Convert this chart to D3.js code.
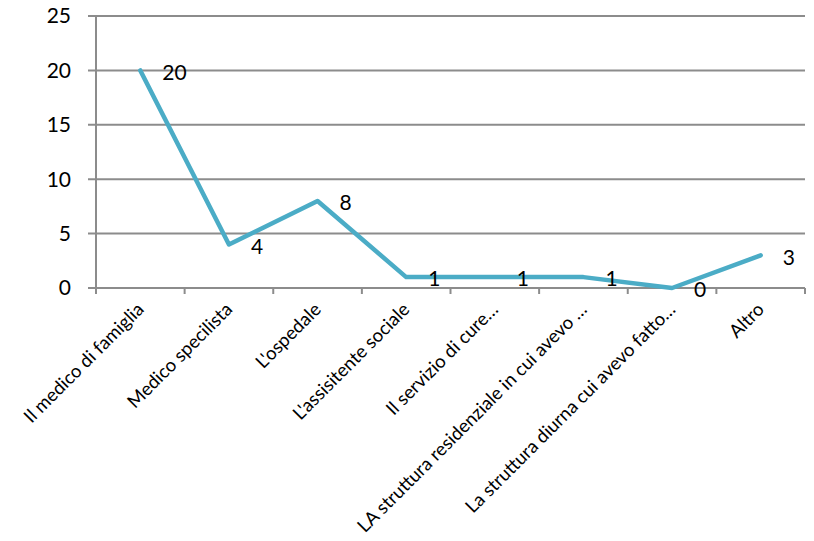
<!DOCTYPE html>
<html>
<head>
<meta charset="utf-8">
<script src="https://cdn.jsdelivr.net/npm/d3@7/dist/d3.min.js"></script>
<style>
  html, body { margin: 0; padding: 0; background: #fff; }
  svg { display: block; font-family: Lato, "Open Sans", sans-serif; }
</style>
</head>
<body>
<svg id="chart" width="814" height="541"></svg>
<script>
// Categories (x axis) and the count for each
const categories = [
  "Il medico di famiglia",
  "Medico specilista",
  "L'ospedale",
  "L'assisitente sociale",
  "Il servizio di cure…",
  "LA struttura residenziale in cui avevo …",
  "La struttura diurna cui avevo fatto…",
  "Altro"
];
const values = [20, 4, 8, 1, 1, 1, 0, 3];
const yTicks = [0, 5, 10, 15, 20, 25];

const svg = d3.select("#chart");
const margin = { left: 96, right: 9, top: 16, bottom: 253 };
const W = 814, H = 541;

const x = d3.scaleBand()
  .domain(categories)
  .range([margin.left, W - margin.right])
  .paddingInner(0).paddingOuter(0);

const y = d3.scaleLinear()
  .domain([0, 25])
  .range([H - margin.bottom, margin.top]);

const gridColor = "#8c8c8c";

// horizontal gridlines with short tick stubs on the left
svg.append("g")
  .selectAll("line")
  .data(yTicks)
  .join("line")
  .attr("x1", margin.left - 8)
  .attr("x2", W - margin.right)
  .attr("y1", d => y(d))
  .attr("y2", d => y(d))
  .attr("stroke", gridColor)
  .attr("stroke-width", 2);

// vertical axis line
svg.append("line")
  .attr("x1", margin.left).attr("x2", margin.left)
  .attr("y1", y(25)).attr("y2", y(0) + 5)
  .attr("stroke", gridColor).attr("stroke-width", 2);

// category boundary ticks under the baseline
const bounds = categories.map(c => x(c)).concat([x(categories[categories.length - 1]) + x.bandwidth()]);
svg.append("g")
  .selectAll("line")
  .data(bounds)
  .join("line")
  .attr("x1", d => d).attr("x2", d => d)
  .attr("y1", y(0)).attr("y2", y(0) + 6)
  .attr("stroke", gridColor).attr("stroke-width", 2);

// y tick labels
svg.append("g")
  .selectAll("text")
  .data(yTicks)
  .join("text")
  .attr("x", 71)
  .attr("y", d => y(d))
  .attr("dy", "0.35em")
  .attr("text-anchor", "end")
  .attr("font-size", 21)
  .attr("fill", "#000")
  .text(d => d);

// rotated category labels
svg.append("g")
  .selectAll("text")
  .data(categories)
  .join("text")
  .attr("transform", d => `translate(${x(d) + x.bandwidth() / 2},${y(0) + 18}) rotate(-45)`)
  .attr("text-anchor", "end")
  .attr("dy", "0.35em")
  .attr("font-size", 18.5)
  .attr("fill", "#000")
  .text(d => d);

// data line
const line = d3.line()
  .x((d, i) => x(categories[i]) + x.bandwidth() / 2)
  .y(d => y(d));

svg.append("path")
  .datum(values)
  .attr("d", line)
  .attr("fill", "none")
  .attr("stroke", "#4BACC6")
  .attr("stroke-width", 4.5)
  .attr("stroke-linejoin", "round")
  .attr("stroke-linecap", "round");

// value labels to the right of each point
svg.append("g")
  .selectAll("text")
  .data(values)
  .join("text")
  .attr("x", (d, i) => x(categories[i]) + x.bandwidth() / 2 + 22)
  .attr("y", d => y(d) + 2)
  .attr("dy", "0.35em")
  .attr("font-size", 21)
  .attr("fill", "#000")
  .text(d => d);
</script>
</body>
</html>
